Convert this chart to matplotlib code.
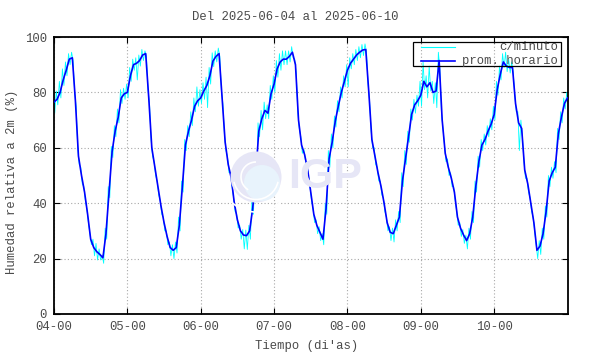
import numpy as np
import matplotlib.pyplot as plt
from matplotlib.patches import Ellipse, Rectangle, Arc

plt.rcParams["font.family"] = ["Liberation Mono", "DejaVu Sans Mono"]

# promedio horario de humedad relativa (%), 24 valores por dia
dia04 = [76.5, 77.5, 80, 84.5, 88, 92, 92.5, 77, 57, 50, 44, 36, 27, 24, 22.5, 21.5, 20.3, 29, 44, 58.5, 66, 71, 78, 79.5]
dia05 = [80, 86, 90, 90.5, 91.5, 93.5, 94, 78, 60, 53, 46, 39, 33, 28, 24, 23, 24, 32, 46, 61, 66, 70, 75, 77]
dia06 = [78, 80.5, 82.5, 86, 91.3, 93, 94, 78, 62, 54, 49, 40, 34, 30, 28.5, 28.3, 30, 38, 50, 66, 70.5, 73.5, 72.5, 79.5]
dia07 = [83, 88.5, 91, 92, 92, 93, 94.5, 90, 70, 61, 57.5, 52, 44, 36, 32, 29.5, 27, 38, 56, 62, 69.5, 75, 80, 84]
dia08 = [88, 90.5, 92, 93.5, 94.5, 95.3, 95.5, 80, 63, 57, 51, 46, 40, 33, 29.5, 29, 32, 35, 48, 56, 64, 72, 75.5, 77]
dia09 = [79, 84, 82, 83.5, 80, 80.5, 91.5, 70, 58, 53, 49, 44, 35, 31, 28.5, 26.5, 29, 35, 46, 55, 61, 63, 66, 68.5]
dia10 = [72, 81, 86.5, 91, 89.5, 89, 89, 76, 69, 67, 52, 47, 40, 33, 23, 24.5, 29, 37, 48, 51, 53, 65, 71, 76]
fin = 78

# dispersion de los datos c/minuto alrededor del promedio (max y min por hora)
arriba04 = [2, 3, 4, 4, 3, 2, 2, 3, 3, 3, 2, 2, 2, 3, 3, 2, 1, 2, 2, 2, 2, 3, 3, 2]
abajo04 = [4, 2, 2, 2, 2, 2, 1, 2, 3, 3, 3, 3, 2, 3, 3, 2, 2, 2, 2, 2, 2, 2, 2, 2]
arriba05 = [3, 3, 2, 2, 2, 2, 1, 3, 3, 2, 2, 2, 2, 2, 2, 2, 2, 3, 2, 2, 2, 3, 3, 5]
abajo05 = [2, 2, 2, 6, 2, 2, 1, 2, 3, 3, 3, 3, 3, 3, 3, 3, 2, 2, 2, 2, 2, 2, 2, 2]
arriba06 = [3, 3, 3, 3, 3, 2, 2, 3, 3, 3, 2, 2, 2, 2, 2, 2, 2, 3, 3, 3, 3, 3, 3, 3]
abajo06 = [2, 3, 8, 3, 2, 2, 1, 2, 3, 3, 3, 3, 3, 3, 5, 5, 3, 2, 2, 2, 4, 3, 2, 2]
arriba07 = [3, 3, 3, 3, 3, 2, 2, 2, 3, 3, 2, 2, 2, 2, 2, 2, 2, 2, 3, 3, 2, 2, 2, 2]
abajo07 = [3, 3, 3, 2, 2, 2, 2, 3, 3, 3, 2, 2, 3, 3, 3, 3, 2, 2, 3, 2, 2, 2, 2, 2]
arriba08 = [2, 2, 2, 2, 2, 2, 2, 3, 3, 3, 2, 2, 2, 2, 2, 2, 2, 2, 3, 3, 2, 2, 2, 2]
abajo08 = [6, 2, 2, 2, 2, 2, 1, 3, 3, 3, 3, 3, 3, 3, 3, 3, 2, 2, 2, 2, 2, 2, 3, 2]
arriba09 = [5, 7, 4, 6, 4, 3, 3, 3, 3, 3, 2, 2, 2, 2, 2, 2, 2, 2, 2, 2, 2, 2, 2, 2]
abajo09 = [4, 3, 4, 3, 4, 6, 3, 3, 3, 3, 3, 3, 3, 3, 3, 3, 2, 2, 2, 2, 2, 2, 2, 2]
arriba10 = [3, 3, 3, 3, 5, 3, 2, 3, 4, 3, 3, 2, 2, 2, 2, 2, 2, 2, 2, 2, 2, 2, 2, 2]
abajo10 = [2, 2, 2, 2, 2, 2, 2, 3, 10, 3, 3, 3, 3, 3, 3, 3, 2, 2, 2, 2, 2, 2, 2, 2]

dias = [4, 5, 6, 7, 8, 9, 10]
etiquetas = ["%02d-00" % d for d in dias]

prom = np.array(dia04 + dia05 + dia06 + dia07 + dia08 + dia09 + dia10 + [fin], dtype=float)
arriba = np.array(arriba04 + arriba05 + arriba06 + arriba07 + arriba08 + arriba09 + arriba10 + [2])
abajo = np.array(abajo04 + abajo05 + abajo06 + abajo07 + abajo08 + abajo09 + abajo10 + [2])
t = 4 + np.arange(len(prom)) / 24.0

# serie c/minuto: maximo y minimo de cada hora
tc = np.column_stack([t - 0.25 / 24, t + 0.25 / 24]).ravel()
yc = np.column_stack([prom + arriba, prom - abajo]).ravel()

gris = "#4a4a4a"
fs = 8.8
fig = plt.figure(figsize=(5.9, 3.54), dpi=100)
ax = fig.add_axes([54 / 590, 1 - 314 / 354, 513.5 / 590, 277 / 354])

# ------------------------------
# marca de agua IGP
lila = "#e6e6f6"
fig.patches.append(Ellipse((256 / 590, 0.5), 51 / 590, 51 / 354, transform=fig.transFigure,
                           fc=lila, ec="none", zorder=0))
fig.patches.append(Ellipse((262 / 590, 1 - 183 / 354), 36 / 590, 36 / 354, transform=fig.transFigure,
                           fc="#e8f3fc", ec="none", zorder=0))
for w, th1, th2 in [(0.9, 200, 340), (1.4, 210, 330), (0.6, 90, 250)]:
    fig.patches.append(Arc((256 / 590, 0.5), w * 50 / 590, w * 50 / 354, theta1=th1, theta2=th2,
                           transform=fig.transFigure, color="white", lw=1.2, zorder=0))
fig.text(288 / 590, 1 - 177 / 354, "IGP", family="Liberation Sans", weight="bold",
         fontsize=31, color=lila, ha="left", va="center", zorder=0)
ax.set_facecolor("none")

# ------------------------------
# series
ax.plot(tc, yc, color="#00ffff", lw=0.6, zorder=2)
ax.plot(t, prom, color="#0000ff", lw=1.2, zorder=3)

ax.set_xlim(4, 11)
ax.set_ylim(0, 100)
ax.set_xticks(dias)
ax.set_xticklabels(etiquetas)
ax.set_yticks([0, 20, 40, 60, 80, 100])
ax.grid(True, color="#a8a8a8", ls=(0, (1, 2)), lw=0.8)
ax.tick_params(direction="in", length=4, width=0.8, top=True, right=True,
               labelsize=fs, labelcolor=gris, pad=5)
for s in ax.spines.values():
    s.set_linewidth(1.3)

# ------------------------------
# leyenda (estilo gnuplot)
ax.add_patch(Rectangle((0.699, 0.895), 0.288, 0.087, transform=ax.transAxes,
                       fill=False, ec="black", lw=0.9, zorder=5))
ax.plot([0.7147, 0.781], [0.9628, 0.9628], transform=ax.transAxes, color="#00ffff", lw=0.8, zorder=5)
ax.plot([0.7147, 0.781], [0.9144, 0.9144], transform=ax.transAxes, color="#0000ff", lw=1.2, zorder=5)
ax.text(0.9815, 0.9628, "c/minuto", transform=ax.transAxes, ha="right", va="center",
        fontsize=fs, color=gris, zorder=5)
ax.text(0.9815, 0.9144, "prom. horario", transform=ax.transAxes, ha="right", va="center",
        fontsize=fs, color=gris, zorder=5)

# ------------------------------
# textos
fig.text(295 / 590, 1 - 17 / 354, "Del 2025-06-04 al 2025-06-10", ha="center", va="center",
         fontsize=fs, color=gris)
fig.text(307 / 590, 1 - 346 / 354, "Tiempo (di'as)", ha="center", va="center",
         fontsize=fs, color=gris)
fig.text(12 / 590, 1 - 182 / 354, "Humedad relativa a 2m (%)", ha="center", va="center",
         rotation=90, fontsize=fs, color=gris)

fig.savefig("out.png", dpi=100)
